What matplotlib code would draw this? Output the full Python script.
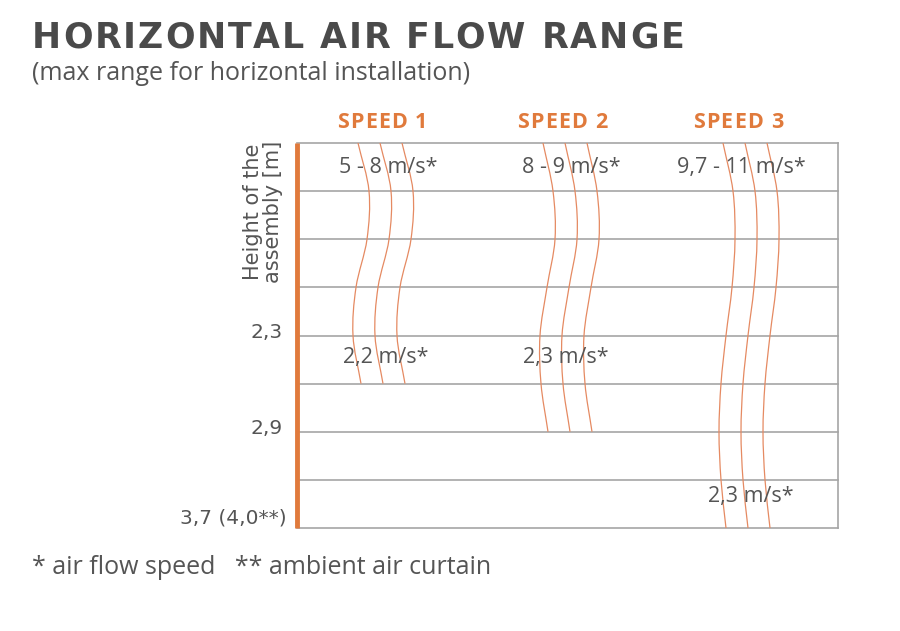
import numpy as np
import matplotlib
matplotlib.use('Agg')
import matplotlib.pyplot as plt
from matplotlib.path import Path
from matplotlib.patches import PathPatch
from matplotlib.font_manager import FontProperties

# data
speeds = ['SPEED 1', 'SPEED 2', 'SPEED 3']
speed_x = [85, 265, 441]                      # header centres (px from left edge of grid)
n_rows = 8
height_ticks = [4, 6, 8]
height_labels = ['2,3', '2,9', '3,7 (4,0**)']

# wavy air stream, middle line x at each grid row (px from grid left)
flow1 = [83, 94, 92, 81, 78, 86]
flow2 = [268, 278, 280, 272, 265, 266, 273]
flow3 = [448, 458, 460, 457, 451, 446, 444, 446, 451]
flows = [flow1, flow2, flow3]
stream_gap = 22

top_speed = ['5 - 8 m/s*', '8 - 9 m/s*', '9,7 - 11 m/s*']
top_speed_x = [91, 274, 444]
end_speed = ['2,2 m/s*', '2,3 m/s*', '2,3 m/s*']
end_speed_x = [89, 269, 454]
end_speed_row = [4.45, 4.45, 7.35]

orange = '#e07a3c'
stream_col = '#e58a62'
grey_txt = '#555555'
grid_col = '#a5a5a5'

W, H = 900, 631


def smooth_path(xs, ys):
    # catmull-rom through the points, as cubic bezier segments
    p = np.column_stack([xs, ys]).astype(float)
    p = np.vstack([2 * p[0] - p[1], p, 2 * p[-1] - p[-2]])
    verts = [p[1]]
    codes = [Path.MOVETO]
    for i in range(1, len(p) - 2):
        c1 = p[i] + (p[i + 1] - p[i - 1]) / 6
        c2 = p[i + 1] - (p[i + 2] - p[i]) / 6
        verts += [c1, c2, p[i + 1]]
        codes += [Path.CURVE4] * 3
    return Path(verts, codes)


def spaced_text(fig, x0, x1, y, s, **kw):
    # letter spaced text filling pixels x0..x1 (top-left origin)
    r = fig.canvas.get_renderer()
    prop = FontProperties(family=kw.get('family'), weight=kw.get('fontweight', 'normal'),
                          size=kw.get('fontsize'))
    base = r.get_text_width_height_descent('xx', prop, ismath=False)[0]
    widths = [r.get_text_width_height_descent('x' + c + 'x', prop, ismath=False)[0] - base
              for c in s]
    gap = (x1 - x0 - sum(widths)) / (len(s) - 1)
    x = x0
    for c, w in zip(s, widths):
        if c != ' ':
            fig.text(x / W, 1 - y / H, c, ha='left', va='center', **kw)
        x += w + gap


fig = plt.figure(figsize=(9, 6.31), dpi=100)
ax = fig.add_axes([297 / W, 1 - 528 / H, 541 / W, 385 / H])
ax.set_xlim(0, 541)
ax.set_ylim(n_rows, 0)
ax.axis('off')

for r in range(n_rows + 1):
    ax.plot([0, 541], [r, r], color=grid_col, lw=1.2, clip_on=False, zorder=1)
ax.plot([541, 541], [0, n_rows], color=grid_col, lw=1.2, clip_on=False, zorder=1)
ax.plot([0, 0], [0, n_rows], color=orange, lw=3.5, clip_on=False, zorder=3,
        solid_capstyle='butt')

for flow in flows:
    rows = np.arange(len(flow))
    for k in (-1, 0, 1):
        xs = np.array(flow) + k * stream_gap
        ax.add_patch(PathPatch(smooth_path(xs, rows), fill=False, ec=stream_col,
                               lw=0.9, zorder=2))

for name, x in zip(speeds, speed_x):
    spaced_text(fig, 297 + x - 45, 297 + x + 45, 123, name, color=orange,
                fontsize=15.5, fontweight='bold', family='Open Sans')

for t, x in zip(top_speed, top_speed_x):
    ax.text(x, 0.5, t, ha='center', va='center', color=grey_txt,
            fontsize=15.5, family='Open Sans', zorder=4)
for t, x, r in zip(end_speed, end_speed_x, end_speed_row):
    ax.text(x, r, t, ha='center', va='center', color=grey_txt,
            fontsize=15.5, family='Open Sans', zorder=4)

for r, lab in zip(height_ticks, height_labels):
    dy = -0.06 if r < n_rows else -0.2
    dx = -14 if r < n_rows else -10
    ax.text(dx, r + dy, lab, ha='right', va='center', color=grey_txt,
            fontsize=14.5, family='DejaVu Sans')

ax.text(-34, 1.44, 'Height of the\nassembly [m]', rotation=90, ha='center',
        va='center', color=grey_txt, fontsize=15, family='DejaVu Sans',
        linespacing=0.95)

spaced_text(fig, 32, 684, 38, 'HORIZONTAL AIR FLOW RANGE', color='#4a4a4a',
            fontsize=25, fontweight='bold', family='DejaVu Sans')
fig.text(32 / W, 1 - 73 / H, '(max range for horizontal installation)',
         ha='left', va='center', color=grey_txt, fontsize=18, family='Open Sans')
fig.text(32 / W, 1 - 568 / H, '* air flow speed   ** ambient air curtain',
         ha='left', va='center', color=grey_txt, fontsize=18, family='Open Sans')

fig.savefig('out.png', dpi=100, facecolor='white')
